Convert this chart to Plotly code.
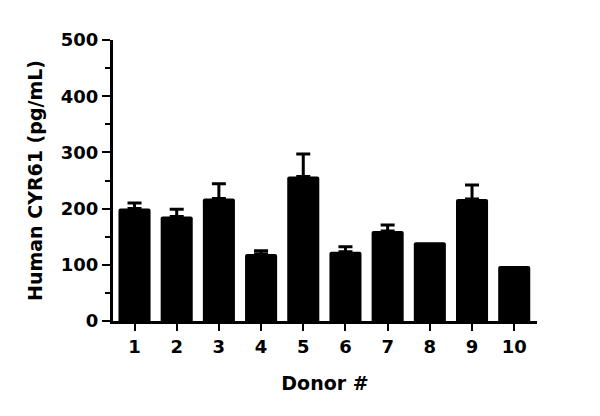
import plotly.graph_objects as go

donors = [1, 2, 3, 4, 5, 6, 7, 8, 9, 10]
tick_labels = ["1", "2", "3", "4", "5", "6", "7", "8", "9", "10"]
means = [200, 186, 218, 119, 257, 123, 160, 140, 217, 98]
err_up = [10, 13, 26, 6, 40, 9, 11, 0, 25, 0]

FONT = "DejaVu Sans"

with_err = [i for i, e in enumerate(err_up) if e > 0]
no_err = [i for i, e in enumerate(err_up) if e == 0]

fig = go.Figure()
fig.add_trace(go.Bar(
    x=[donors[i] for i in with_err], y=[means[i] for i in with_err], width=0.76,
    marker=dict(color="black", line=dict(width=0), cornerradius=2),
    error_y=dict(type="data", array=[err_up[i] for i in with_err],
                 arrayminus=[0]*len(with_err),
                 symmetric=False, color="black", thickness=3, width=7),
))
fig.add_trace(go.Bar(
    x=[donors[i] for i in no_err], y=[means[i] for i in no_err], width=0.76,
    marker=dict(color="black", line=dict(width=0), cornerradius=2),
))

fig.update_layout(
    width=600, height=416,
    barmode="overlay",
    margin=dict(l=113, r=63, t=40, b=95),
    plot_bgcolor="white", paper_bgcolor="white",
    showlegend=False,
    font=dict(family=FONT, color="black"),
    xaxis=dict(
        range=[0.49, 10.54], tickvals=donors, ticktext=tick_labels,
        showline=True, linecolor="black", linewidth=3,
        ticks="outside", ticklen=7, tickwidth=2, tickcolor="black",
        showgrid=False, zeroline=False,
        tickfont=dict(family=FONT, size=18, color="black", weight="bold"),
        title=dict(text="<b>Donor #</b>", font=dict(family=FONT, size=19), standoff=22),
    ),
    yaxis=dict(
        range=[0, 500], tickvals=[0, 100, 200, 300, 400, 500],
        showline=True, linecolor="black", linewidth=3,
        ticks="outside", ticklen=8, tickwidth=2, tickcolor="black",
        minor=dict(tickvals=[50, 150, 250, 350, 450], ticks="outside", ticklen=5,
                   tickwidth=2, tickcolor="black"),
        showgrid=False, zeroline=False,
        tickfont=dict(family=FONT, size=18, color="black", weight="bold"),
        title=dict(text="<b>Human CYR61 (pg/mL)</b>", font=dict(family=FONT, size=19), standoff=14),
    ),
)

fig.write_html("out.html")
